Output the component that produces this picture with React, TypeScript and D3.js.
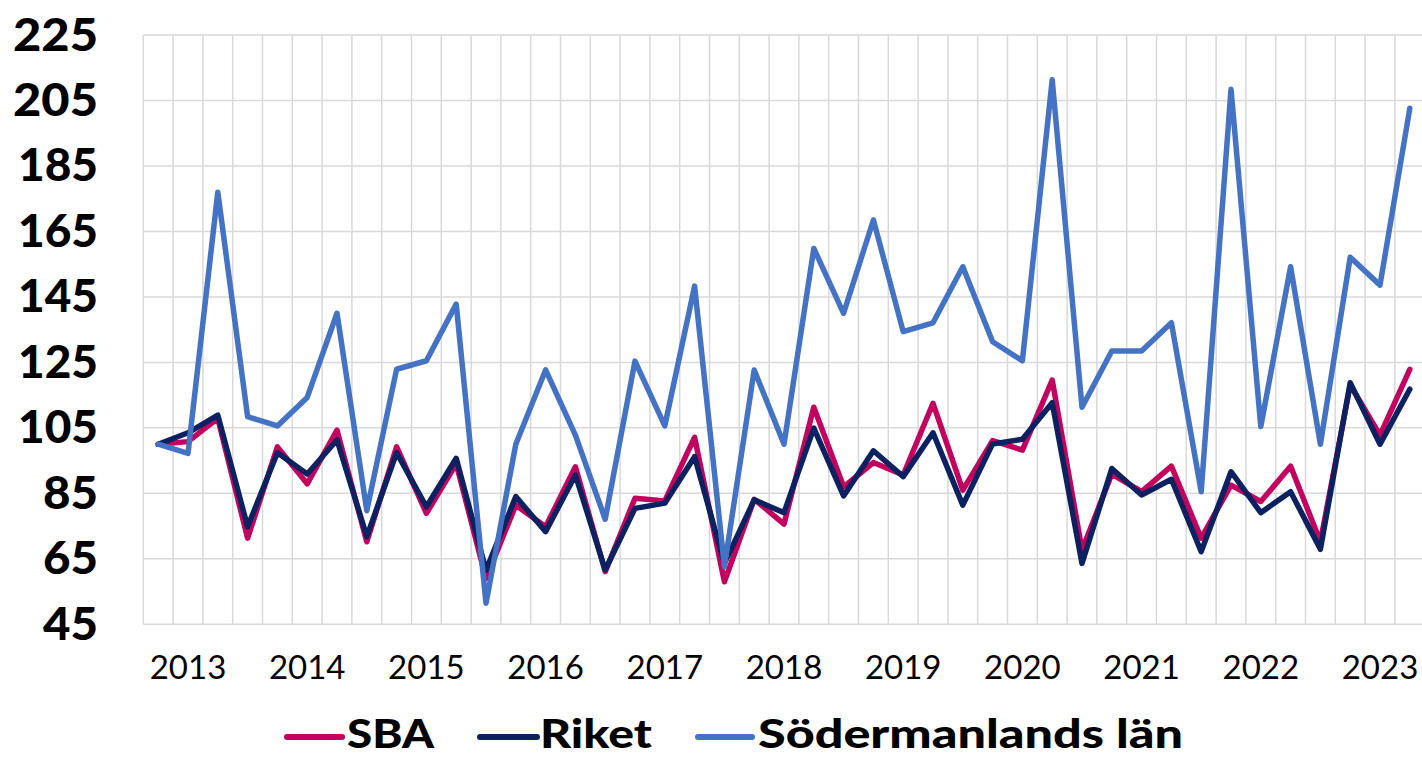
import React from "react";
import * as d3 from "d3";

// Quarterly index series, 2013 K1 – 2023 K3
const quarters = [
  "2013K1", "2013K2", "2013K3", "2013K4",
  "2014K1", "2014K2", "2014K3", "2014K4",
  "2015K1", "2015K2", "2015K3", "2015K4",
  "2016K1", "2016K2", "2016K3", "2016K4",
  "2017K1", "2017K2", "2017K3", "2017K4",
  "2018K1", "2018K2", "2018K3", "2018K4",
  "2019K1", "2019K2", "2019K3", "2019K4",
  "2020K1", "2020K2", "2020K3", "2020K4",
  "2021K1", "2021K2", "2021K3", "2021K4",
  "2022K1", "2022K2", "2022K3", "2022K4",
  "2023K1", "2023K2", "2023K3",
];

// year label is shown under the second quarter of each year
const yearLabels = ["2013", "2014", "2015", "2016", "2017", "2018", "2019", "2020", "2021", "2022", "2023"];

const sba = [
  100, 100.8, 107.9, 71.3, 99.2, 87.9, 104.3, 70.2, 99.2, 78.9, 94, 59, 81.4, 74.8, 93.1, 61.1,
  83.5, 82.7, 102.1, 58, 83.2, 75.6, 111.3, 87, 94.4, 90.6, 112.5, 86, 101.1, 98.2, 119.6, 67.7,
  90.9, 85.5, 93.3, 71.3, 87.5, 82.5, 93.3, 70.2, 118.1, 102.8, 122.9,
];

const riket = [
  100, 103.5, 108.9, 74.8, 97.4, 90.9, 101.3, 71.8, 97.4, 80.9, 95.7, 61.5, 84, 73.3, 90.6, 61.6,
  80.4, 82, 96.2, 63.6, 83, 79.1, 104.9, 84.2, 98, 90.1, 103.5, 81.4, 100.1, 101.5, 112.7, 63.6,
  92.6, 84.5, 89.3, 67.2, 91.6, 79.1, 85.5, 67.9, 118.8, 100, 116.8,
];

const sodermanland = [
  100, 97.2, 177, 108.4, 105.6, 114.3, 140, 79.7, 122.9, 125.5, 142.8, 51.4, 100, 122.7, 102.8, 77.1,
  125.4, 105.6, 148.3, 62.6, 122.7, 100, 159.8, 140, 168.5, 134.4, 137.1, 154.2, 131.3, 125.5, 211.3, 111.3,
  128.5, 128.5, 137.1, 85.5, 208.4, 105.4, 154.2, 100, 157.1, 148.6, 202.6,
];

const yTicks = [45, 65, 85, 105, 125, 145, 165, 185, 205, 225];

const seriesNames = ["SBA", "Riket", "Södermanlands län"];
const seriesColors = ["#C4005F", "#0C2160", "#4472C4"];

const W = 1422;
const H = 757;
const plot = { left: 143.3, right: 1424.7, top: 35, bottom: 624.3 };

// width of the heavy tick labels as they appear in the picture
const tickWidth = (t: number) => (t < 100 ? 55 : String(t)[0] === "1" ? 80 : 85);

export default function App() {
  const x = d3
    .scaleBand<number>()
    .domain(quarters.map((_, i) => i))
    .range([plot.left, plot.right])
    .padding(0);
  const y = d3.scaleLinear().domain([45, 225]).range([plot.bottom, plot.top]);
  const cx = (i: number) => (x(i) as number) + x.bandwidth() / 2;

  const line = d3
    .line<number>()
    .x((_, i) => cx(i))
    .y((d) => y(d));

  const series = [sba, riket, sodermanland];

  // legend layout
  const legend = [
    { x0: 287, x1: 342, tx: 347, tw: 87 },
    { x0: 480, x1: 537, tx: 540, tw: 112 },
    { x0: 698, x1: 752, tx: 758, tw: 425 },
  ];

  return (
    <svg
      width={W}
      height={H}
      style={{ position: "absolute", left: 0, top: 0, background: "#fff" }}
    >
      {/* grid */}
      <g stroke="#D9D9D9" strokeWidth={1.5}>
        {yTicks.map((t) => (
          <line key={t} x1={plot.left} x2={plot.right} y1={y(t)} y2={y(t)} />
        ))}
        {quarters.map((q, i) => (
          <line key={q} x1={x(i)} x2={x(i)} y1={plot.top} y2={plot.bottom} />
        ))}
      </g>

      {/* y labels */}
      <g fontFamily="Lato, 'DejaVu Sans', sans-serif" fontWeight={900} fontSize={45} fill="#000" textAnchor="end">
        {yTicks.map((t) => (
          <text
            key={t}
            x={98}
            y={y(t) + 15.5}
            textLength={tickWidth(t)}
            lengthAdjust="spacingAndGlyphs"
          >
            {t}
          </text>
        ))}
      </g>

      {/* x labels */}
      <g fontFamily="Lato, 'DejaVu Sans', sans-serif" fontWeight={400} fontSize={33} fill="#000" textAnchor="middle">
        {yearLabels.map((yr, k) => (
          <text key={yr} x={cx(1 + 4 * k)} y={679}>
            {yr}
          </text>
        ))}
      </g>

      {/* lines */}
      {series.map((s, k) => (
        <path
          key={seriesNames[k]}
          d={line(s) || ""}
          fill="none"
          stroke={seriesColors[k]}
          strokeWidth={5.5}
          strokeLinejoin="round"
          strokeLinecap="round"
        />
      ))}

      {/* legend */}
      <g fontFamily="Lato, 'DejaVu Sans', sans-serif" fontWeight={900} fontSize={40} fill="#000">
        {seriesNames.map((name, k) => (
          <g key={name}>
            <line
              x1={legend[k].x0}
              x2={legend[k].x1}
              y1={737}
              y2={737}
              stroke={seriesColors[k]}
              strokeWidth={6}
              strokeLinecap="round"
            />
            <text x={legend[k].tx} y={748} textLength={legend[k].tw} lengthAdjust="spacingAndGlyphs">
              {name}
            </text>
          </g>
        ))}
      </g>
    </svg>
  );
}
